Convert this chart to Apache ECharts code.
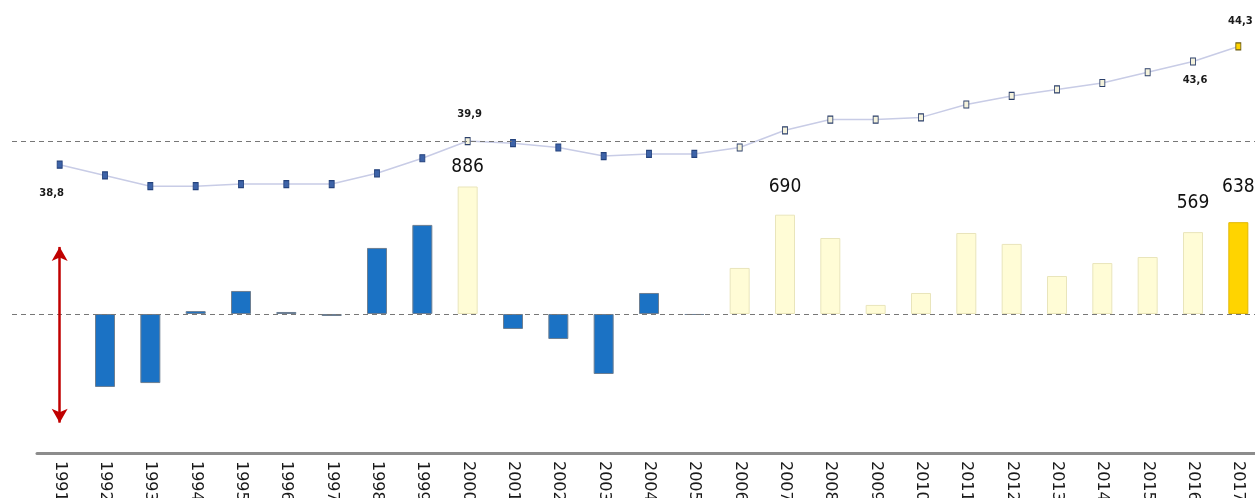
<!DOCTYPE html>
<html>
<head>
<meta charset="utf-8">
<script src="https://cdn.jsdelivr.net/npm/echarts@6/dist/echarts.min.js"></script>
<style>
  html, body { margin: 0; padding: 0; background: #fff; }
  #chart { width: 1255px; height: 498px; }
</style>
</head>
<body>
<div id="chart"></div>
<script>
// years on the x axis
const years = ['1991', '1992', '1993', '1994', '1995', '1996', '1997', '1998', '1999', '2000',
  '2001', '2002', '2003', '2004', '2005', '2006', '2007', '2008', '2009', '2010',
  '2011', '2012', '2013', '2014', '2015', '2016', '2017']

// bars: yearly change, no bar for 1991
const barValues = [null, -507, -480, 20, 160, 14, -14, 459, 619, 886,
  -104, -174, -417, 146, -7, 320, 690, 528, 63, 146,
  563, 487, 264, 354, 396, 569, 638]

// line: index values
const lineValues = [38.8, 38.3, 37.8, 37.8, 37.9, 37.9, 37.9, 38.4, 39.1, 39.9,
  39.8, 39.6, 39.2, 39.3, 39.3, 39.6, 40.4, 40.9, 40.9, 41.0,
  41.6, 42.0, 42.3, 42.6, 43.1, 43.6, 44.3]

// which points carry a label
const barLabelYears = ['2000', '2007', '2016', '2017']
const lineLabelYears = ['1991', '2000', '2016', '2017']

// reference levels and the red arrow span (bar units)
const zeroLevel = 0
const lineRefLevel = 39.9
const arrowRange = [466, -755]

function barKind(year) {
  const y = Number(year)
  if (y === 2017) return 'gold'
  if (y === 2000 || y >= 2006) return 'light'
  return 'blue'
}

const barStyles = {
  blue: { color: '#1b72c4', borderColor: '#6d7f92', borderWidth: 1 },
  light: { color: '#fffcd6', borderColor: '#e9e5bb', borderWidth: 1 },
  gold: { color: '#ffd400', borderColor: '#e2b800', borderWidth: 1 }
}

const markerStyles = {
  blue: { color: '#3d63a8', borderColor: '#24427c', borderWidth: 1 },
  light: { color: '#f4f2dc', borderColor: '#2b3f6a', borderWidth: 1 },
  gold: { color: '#ffd400', borderColor: '#6b5a10', borderWidth: 1 }
}

// label placement tweaks per year
const lineLabelPos = {
  '1991': { position: 'bottom', distance: 20, offset: [-8, 0] },
  '2000': { position: 'top', distance: 18, offset: [2, 0] },
  '2016': { position: 'bottom', distance: 10, offset: [2, 0] },
  '2017': { position: 'top', distance: 16, offset: [2, 0] }
}
const barLabelDist = { '2000': 10, '2007': 18, '2016': 20, '2017': 26 }

const barData = barValues.map((v, i) => {
  const yr = years[i]
  return {
    value: v,
    itemStyle: barStyles[barKind(yr)],
    label: {
      show: barLabelYears.includes(yr),
      distance: barLabelDist[yr] || 10
    }
  }
})

const lineData = lineValues.map((v, i) => {
  const yr = years[i]
  const pos = lineLabelPos[yr] || {}
  return {
    value: v,
    itemStyle: markerStyles[barKind(yr)],
    label: Object.assign({ show: lineLabelYears.includes(yr) }, pos)
  }
})

const chart = echarts.init(document.getElementById('chart'))

chart.setOption({
  animation: false,
  grid: { left: 37, top: 20, width: 1224, height: 433, outerBoundsMode: 'none' },
  xAxis: {
    type: 'category',
    data: years,
    axisTick: { show: false },
    axisLine: { onZero: false, lineStyle: { color: '#8c8c8c', width: 3 } },
    axisLabel: {
      rotate: -90,
      margin: 8,
      fontSize: 16,
      color: '#1a1a1a',
      fontFamily: 'DejaVu Sans',
      interval: 0
    }
  },
  yAxis: [
    { type: 'value', min: -966, max: 2043, show: false },
    { type: 'value', min: 25.39, max: 45.53, show: false }
  ],
  series: [
    {
      type: 'bar',
      yAxisIndex: 0,
      barWidth: 20,
      data: barData,
      label: {
        position: 'top',
        fontSize: 19,
        color: '#111',
        fontFamily: "'DejaVu Sans Condensed', 'Liberation Sans'"
      },
      markLine: {
        silent: true,
        symbol: 'none',
        label: { show: false },
        data: [
          [
            { x: 12, yAxis: zeroLevel, lineStyle: { color: '#777', type: [5, 4], width: 1 } },
            { x: 1255, yAxis: zeroLevel }
          ],
          [
            { coord: [years[0], arrowRange[0]], symbol: 'arrow', symbolSize: [12, 14],
              lineStyle: { color: '#c00000', type: 'solid', width: 2.5 } },
            { coord: [years[0], arrowRange[1]], symbol: 'arrow', symbolSize: [12, 14] }
          ]
        ]
      }
    },
    {
      type: 'line',
      yAxisIndex: 1,
      data: lineData,
      symbol: 'rect',
      symbolSize: [5, 7],
      lineStyle: { color: '#c8cce6', width: 1.5 },
      label: {
        fontSize: 10,
        fontWeight: 'bold',
        color: '#1a1a1a',
        fontFamily: 'DejaVu Sans',
        formatter: p => String(p.value).replace('.', ',')
      },
      markLine: {
        silent: true,
        symbol: 'none',
        label: { show: false },
        lineStyle: { color: '#777', type: [5, 4], width: 1 },
        data: [
          [{ x: 12, yAxis: lineRefLevel }, { x: 1255, yAxis: lineRefLevel }]
        ]
      }
    }
  ]
})
</script>
</body>
</html>
